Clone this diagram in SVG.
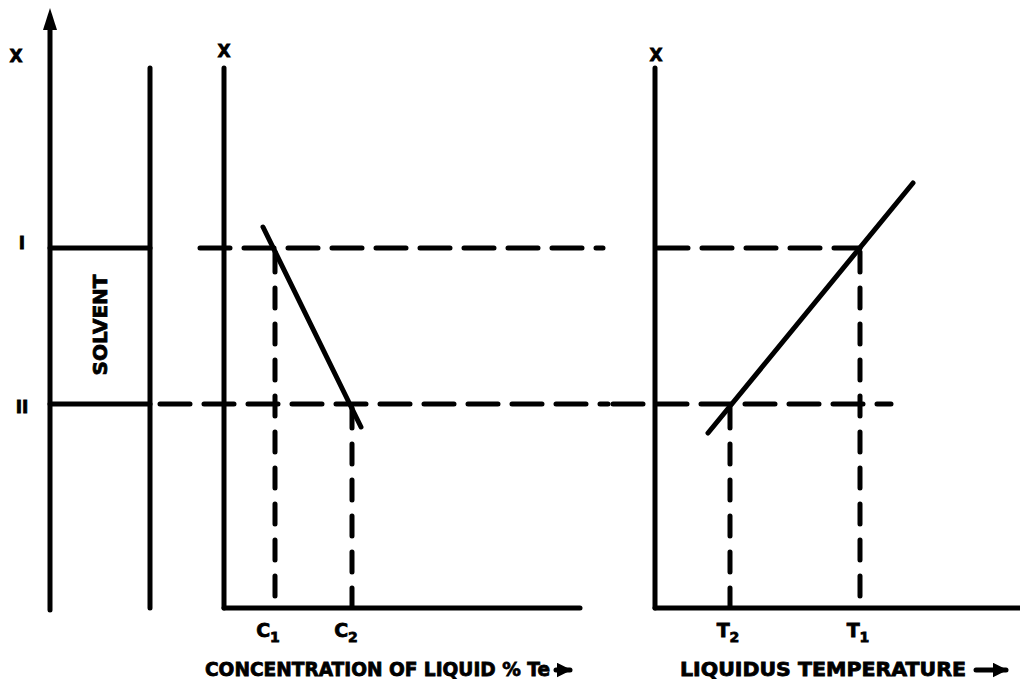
<svg xmlns="http://www.w3.org/2000/svg" width="1020" height="687" viewBox="0 0 1020 687">
<style>
.s{stroke:#000;stroke-width:5;fill:none;stroke-linecap:round}
.dh{stroke:#000;stroke-width:5;fill:none;stroke-dasharray:30 14;stroke-linecap:round}
.dv{stroke:#000;stroke-width:5;fill:none;stroke-dasharray:20 16;stroke-linecap:round}
.t{font-family:"DejaVu Sans","Liberation Sans",sans-serif;font-weight:900;fill:#000;stroke:#000;stroke-width:0.8}
</style>
<defs>
<marker id="ah" viewBox="0 0 10 10" refX="9" refY="5" markerWidth="3" markerHeight="3" orient="auto" markerUnits="strokeWidth">
<path d="M0,0 L10,5 L0,10 z" fill="#000"/>
</marker>
</defs>
<rect width="1020" height="687" fill="#fff"/>
<g id="solvent-column">
<line class="s" x1="50" y1="610" x2="50" y2="20"/>
<path d="M43,30 L50,8 L57,30 z" fill="#000"/>
<line class="s" x1="150" y1="68" x2="150" y2="608"/>
<line class="s" x1="50" y1="248" x2="150" y2="248"/>
<line class="s" x1="50" y1="404" x2="150" y2="404"/>
<text class="t" x="16" y="62" font-size="17" text-anchor="middle">X</text>
<text class="t" x="22" y="249" font-size="17" text-anchor="middle" font-family="Liberation Serif,serif">I</text>
<text class="t" x="22" y="413" font-size="17" text-anchor="middle" font-family="Liberation Serif,serif">II</text>
<text class="t" font-size="20" text-anchor="middle" transform="translate(107,325) rotate(-90)">SOLVENT</text>
</g>
<g id="concentration-chart">
<line class="s" x1="224" y1="68" x2="224" y2="608"/>
<line class="s" x1="224" y1="608" x2="580" y2="608"/>
<text class="t" x="224" y="57" font-size="17" text-anchor="middle">X</text>
<line class="s" x1="263" y1="227" x2="361" y2="427"/>
<text class="t" x="268" y="637" font-size="19" text-anchor="middle">C<tspan font-size="14" dy="5">1</tspan></text>
<text class="t" x="346" y="637" font-size="19" text-anchor="middle">C<tspan font-size="14" dy="5">2</tspan></text>
<text class="t" x="205" y="676" font-size="19" textLength="345" lengthAdjust="spacingAndGlyphs">CONCENTRATION OF LIQUID % Te</text>
<line class="s" x1="556" y1="670" x2="570" y2="670" stroke-width="3.5" marker-end="url(#ah)"/>
</g>
<g id="temperature-chart">
<line class="s" x1="655" y1="68" x2="655" y2="608"/>
<line class="s" x1="655" y1="608" x2="1020" y2="608"/>
<text class="t" x="656" y="61" font-size="17" text-anchor="middle">X</text>
<line class="s" x1="708" y1="433" x2="913" y2="183"/>
<text class="t" x="728" y="637" font-size="19" text-anchor="middle">T<tspan font-size="14" dy="5">2</tspan></text>
<text class="t" x="858" y="637" font-size="19" text-anchor="middle">T<tspan font-size="14" dy="5">1</tspan></text>
<text class="t" x="680" y="676" font-size="19" textLength="286" lengthAdjust="spacingAndGlyphs">LIQUIDUS TEMPERATURE</text>
<line class="s" x1="976" y1="670" x2="1006" y2="670" stroke-width="4" marker-end="url(#ah)"/>
</g>
<g id="connectors">
<line class="dh" x1="200" y1="248" x2="603" y2="248"/>
<line class="dh" x1="658" y1="248" x2="860" y2="248"/>
<line class="dh" x1="160" y1="404" x2="608" y2="404"/>
<line class="dh" x1="613" y1="404" x2="891" y2="404"/>
<line class="dv" x1="275" y1="252" x2="275" y2="606"/>
<line class="dv" x1="352" y1="408" x2="352" y2="606"/>
<line class="dv" x1="730" y1="408" x2="730" y2="606"/>
<line class="dv" x1="860" y1="252" x2="860" y2="606"/>
</g>
</svg>
